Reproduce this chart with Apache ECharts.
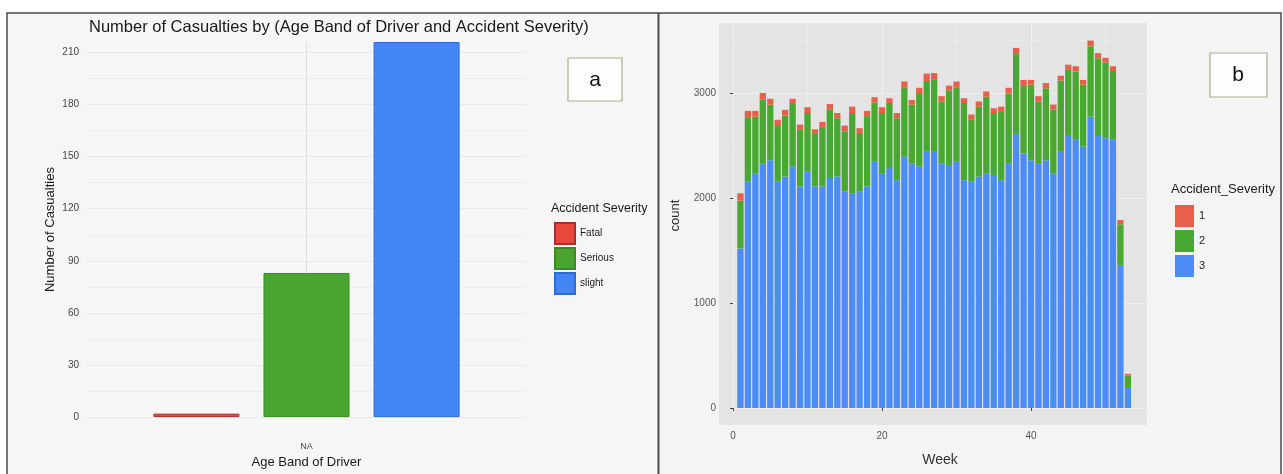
<!DOCTYPE html>
<html>
<head>
<meta charset="utf-8">
<script src="https://cdn.jsdelivr.net/npm/echarts@6.0.0/dist/echarts.min.js"></script>
<style>
  html, body { margin: 0; padding: 0; background: #ffffff; }
  #chart { width: 1283px; height: 474px; }
</style>
</head>
<body>
<div id="chart"></div>
<script>
// panel a: casualties by age band and severity
const ageBands = ['NA']
const severityNames = ['Fatal', 'Serious', 'slight']
const fatalCount = [2]
const seriousCount = [83]
const slightCount = [216]

// panel b: weekly counts by Accident_Severity (1, 2, 3)
const weeks = [1, 2, 3, 4, 5, 6, 7, 8, 9, 10, 11, 12, 13, 14, 15, 16, 17, 18, 19, 20,
  21, 22, 23, 24, 25, 26, 27, 28, 29, 30, 31, 32, 33, 34, 35, 36, 37, 38, 39, 40,
  41, 42, 43, 44, 45, 46, 47, 48, 49, 50, 51, 52, 53]
const sev3 = [1520, 2155, 2235, 2330, 2360, 2155, 2205, 2300, 2110, 2250,
  2110, 2110, 2190, 2205, 2060, 2045, 2060, 2110, 2345, 2235,
  2285, 2170, 2395, 2330, 2300, 2440, 2440, 2330, 2315, 2345,
  2170, 2155, 2205, 2235, 2220, 2170, 2330, 2620, 2425, 2360,
  2330, 2360, 2235, 2440, 2600, 2555, 2490, 2775, 2600, 2570,
  2555, 1360, 200]
const sev2 = [455, 615, 540, 610, 530, 540, 580, 595, 545, 560,
  500, 565, 650, 555, 575, 765, 560, 670, 565, 575,
  620, 590, 660, 560, 700, 675, 685, 590, 710, 710,
  735, 595, 665, 730, 590, 650, 665, 760, 650, 720,
  590, 685, 610, 680, 620, 650, 590, 670, 730, 720,
  655, 390, 110]
const sev1 = [70, 60, 55, 60, 55, 50, 55, 50, 45, 55,
  45, 50, 55, 50, 55, 60, 45, 50, 50, 55,
  45, 50, 55, 45, 50, 70, 65, 50, 45, 55,
  45, 45, 50, 50, 45, 50, 55, 50, 50, 45,
  50, 50, 45, 45, 50, 50, 45, 55, 50, 45,
  45, 40, 15]

const font = 'Liberation Sans, Arial, sans-serif'
const leftColors = { fill: ['#e8483b', '#4aa530', '#4285f4'], line: ['#a8302a', '#3b8a27', '#2f6bd6'] }
const rightColors = ['#e8604c', '#49a832', '#4c8cf5']

// [count, week] so that the count column is the one that gets stacked
const toRows = (vals) => vals.map((v, i) => [v, weeks[i]])

const weekSeries = (name, vals, color) => ({
  name, type: 'bar', stack: 'week', xAxisIndex: 2, yAxisIndex: 2,
  dimensions: ['count', 'week'],
  encode: { x: 'week', y: 'count' },
  data: toRows(vals), barWidth: 6.3, itemStyle: { color }
})

const chart = echarts.init(document.getElementById('chart'))

const option = {
  backgroundColor: '#ffffff',
  textStyle: { fontFamily: font },
  animation: false,
  title: [
    {
      text: 'Number of Casualties by (Age Band of Driver and Accident Severity)',
      left: 84, top: 14,
      textStyle: { fontSize: 16.5, fontWeight: 'normal', color: '#1a1a1a', fontFamily: font }
    },
    {
      text: 'Accident Severity',
      left: 546, top: 197,
      textStyle: { fontSize: 12.5, fontWeight: 'normal', color: '#1a1a1a', fontFamily: font }
    },
    {
      text: 'Accident_Severity',
      left: 1166, top: 178,
      textStyle: { fontSize: 13, fontWeight: 'normal', color: '#1a1a1a', fontFamily: font }
    }
  ],
  legend: [
    {
      data: severityNames,
      orient: 'vertical', left: 549, top: 217,
      itemWidth: 20, itemHeight: 21, itemGap: 2,
      icon: 'rect',
      textStyle: { fontSize: 10, color: '#222', fontFamily: font }
    },
    {
      data: ['1', '2', '3'],
      orient: 'vertical', left: 1170, top: 200,
      itemWidth: 19, itemHeight: 22, itemGap: 3,
      icon: 'rect',
      textStyle: { fontSize: 11, color: '#222', fontFamily: font }
    }
  ],
  grid: [
    { left: 87, right: 757, top: 42, bottom: 52 },
    { left: 733, right: 136, top: 23, bottom: 66 }
  ],
  xAxis: [
    {
      type: 'category', gridIndex: 0, data: ageBands,
      axisLine: { show: false }, axisTick: { show: false },
      axisLabel: { fontSize: 9, color: '#444', margin: 25 },
      name: 'Age Band of Driver', nameLocation: 'middle', nameGap: 36,
      nameTextStyle: { fontSize: 13, color: '#1a1a1a' }
    },
    {
      // only used for the vertical grid line at NA
      type: 'value', gridIndex: 0, min: -1, max: 1, interval: 1,
      axisLine: { show: false }, axisTick: { show: false }, axisLabel: { show: false },
      splitLine: { show: true, showMinLine: false, showMaxLine: false, lineStyle: { color: '#dedede', width: 1 } }
    },
    {
      type: 'value', gridIndex: 1, min: 0, max: 55.57, interval: 20,
      offset: 17,
      axisLine: { show: false },
      axisTick: { show: true, length: 3, lineStyle: { color: '#444' } },
      axisLabel: { fontSize: 10, color: '#555', margin: 6, showMaxLabel: false },
      splitLine: { show: true, showMaxLine: false, lineStyle: { color: '#f6f6f6', width: 1.2 } },
      name: 'Week', nameLocation: 'middle', nameGap: 28,
      nameTextStyle: { fontSize: 14, color: '#333' }
    },
    {
      type: 'value', gridIndex: 1, min: 0, max: 55.57, interval: 10,
      axisLine: { show: false }, axisTick: { show: false }, axisLabel: { show: false },
      splitLine: { show: true, showMaxLine: false, lineStyle: { color: '#ededed', width: 0.7 } }
    }
  ],
  yAxis: [
    {
      type: 'value', gridIndex: 0, min: 0, max: 216, interval: 30,
      axisLine: { show: false }, axisTick: { show: false },
      axisLabel: { fontSize: 10, color: '#444', margin: 8, showMaxLabel: false },
      splitLine: { show: true, showMaxLine: false, lineStyle: { color: '#e0e0e0', width: 1 } },
      name: 'Number of Casualties', nameLocation: 'middle', nameGap: 30,
      nameTextStyle: { fontSize: 13, color: '#1a1a1a' }
    },
    {
      type: 'value', gridIndex: 0, min: 0, max: 216, interval: 15,
      axisLine: { show: false }, axisTick: { show: false }, axisLabel: { show: false },
      splitLine: { show: true, showMaxLine: false, lineStyle: { color: '#ebebeb', width: 0.8 } }
    },
    {
      type: 'value', gridIndex: 1, min: 0, max: 3667, interval: 1000,
      offset: 14,
      axisLine: { show: false },
      axisTick: { show: true, length: 3, lineStyle: { color: '#444' } },
      axisLabel: { fontSize: 10, color: '#555', margin: 3, showMaxLabel: false, formatter: (v) => String(v) },
      splitLine: { show: true, showMaxLine: false, lineStyle: { color: '#f6f6f6', width: 1.2 } },
      name: 'count', nameLocation: 'middle', nameGap: 37,
      nameTextStyle: { fontSize: 13, color: '#333' }
    },
    {
      type: 'value', gridIndex: 1, min: 0, max: 3667, interval: 500,
      axisLine: { show: false }, axisTick: { show: false }, axisLabel: { show: false },
      splitLine: { show: true, showMaxLine: false, lineStyle: { color: '#ededed', width: 0.7 } }
    }
  ],
  series: [
    // panel a
    ...[fatalCount, seriousCount, slightCount].map((vals, i) => ({
      name: severityNames[i], type: 'bar', xAxisIndex: 0, yAxisIndex: 0,
      data: vals, barWidth: 86, barGap: '28%',
      itemStyle: { color: leftColors.fill[i], borderColor: leftColors.line[i], borderWidth: 1 }
    })),
    // panel b, stacked: 3 at the bottom, 1 on top
    weekSeries('3', sev3, rightColors[2]),
    weekSeries('2', sev2, rightColors[1]),
    weekSeries('1', sev1, rightColors[0])
  ],
  graphic: [
    // panel backgrounds
    { type: 'rect', z: -10, silent: true, shape: { x: 8, y: 14, width: 650, height: 462 }, style: { fill: '#f6f6f6' } },
    { type: 'rect', z: -10, silent: true, shape: { x: 660, y: 14, width: 621, height: 462 }, style: { fill: '#f4f4f4' } },
    { type: 'rect', z: -9, silent: true, shape: { x: 719, y: 23, width: 428, height: 402 }, style: { fill: '#e4e4e4' } },
    // frame
    { type: 'rect', z: 50, silent: true, shape: { x: 7, y: 13, width: 1274, height: 470 }, style: { fill: 'none', stroke: '#4a4a4a', lineWidth: 1.5 } },
    { type: 'line', z: 50, silent: true, shape: { x1: 658.5, y1: 13, x2: 658.5, y2: 474 }, style: { stroke: '#4a4a4a', lineWidth: 2 } },
    // panel labels
    { type: 'rect', z: 50, silent: true, shape: { x: 568, y: 58, width: 54, height: 43 }, style: { fill: '#fdfdfd', stroke: '#a7b08c', lineWidth: 1.2 } },
    { type: 'text', z: 51, silent: true, x: 595, y: 80, style: { text: 'a', fontSize: 21, fontFamily: font, fill: '#111', align: 'center', verticalAlign: 'middle' } },
    { type: 'rect', z: 50, silent: true, shape: { x: 1210, y: 53, width: 57, height: 44 }, style: { fill: '#fdfdfd', stroke: '#a7b08c', lineWidth: 1.2 } },
    { type: 'text', z: 51, silent: true, x: 1238, y: 75, style: { text: 'b', fontSize: 21, fontFamily: font, fill: '#111', align: 'center', verticalAlign: 'middle' } }
  ]
}

chart.setOption(option)
</script>
</body>
</html>
